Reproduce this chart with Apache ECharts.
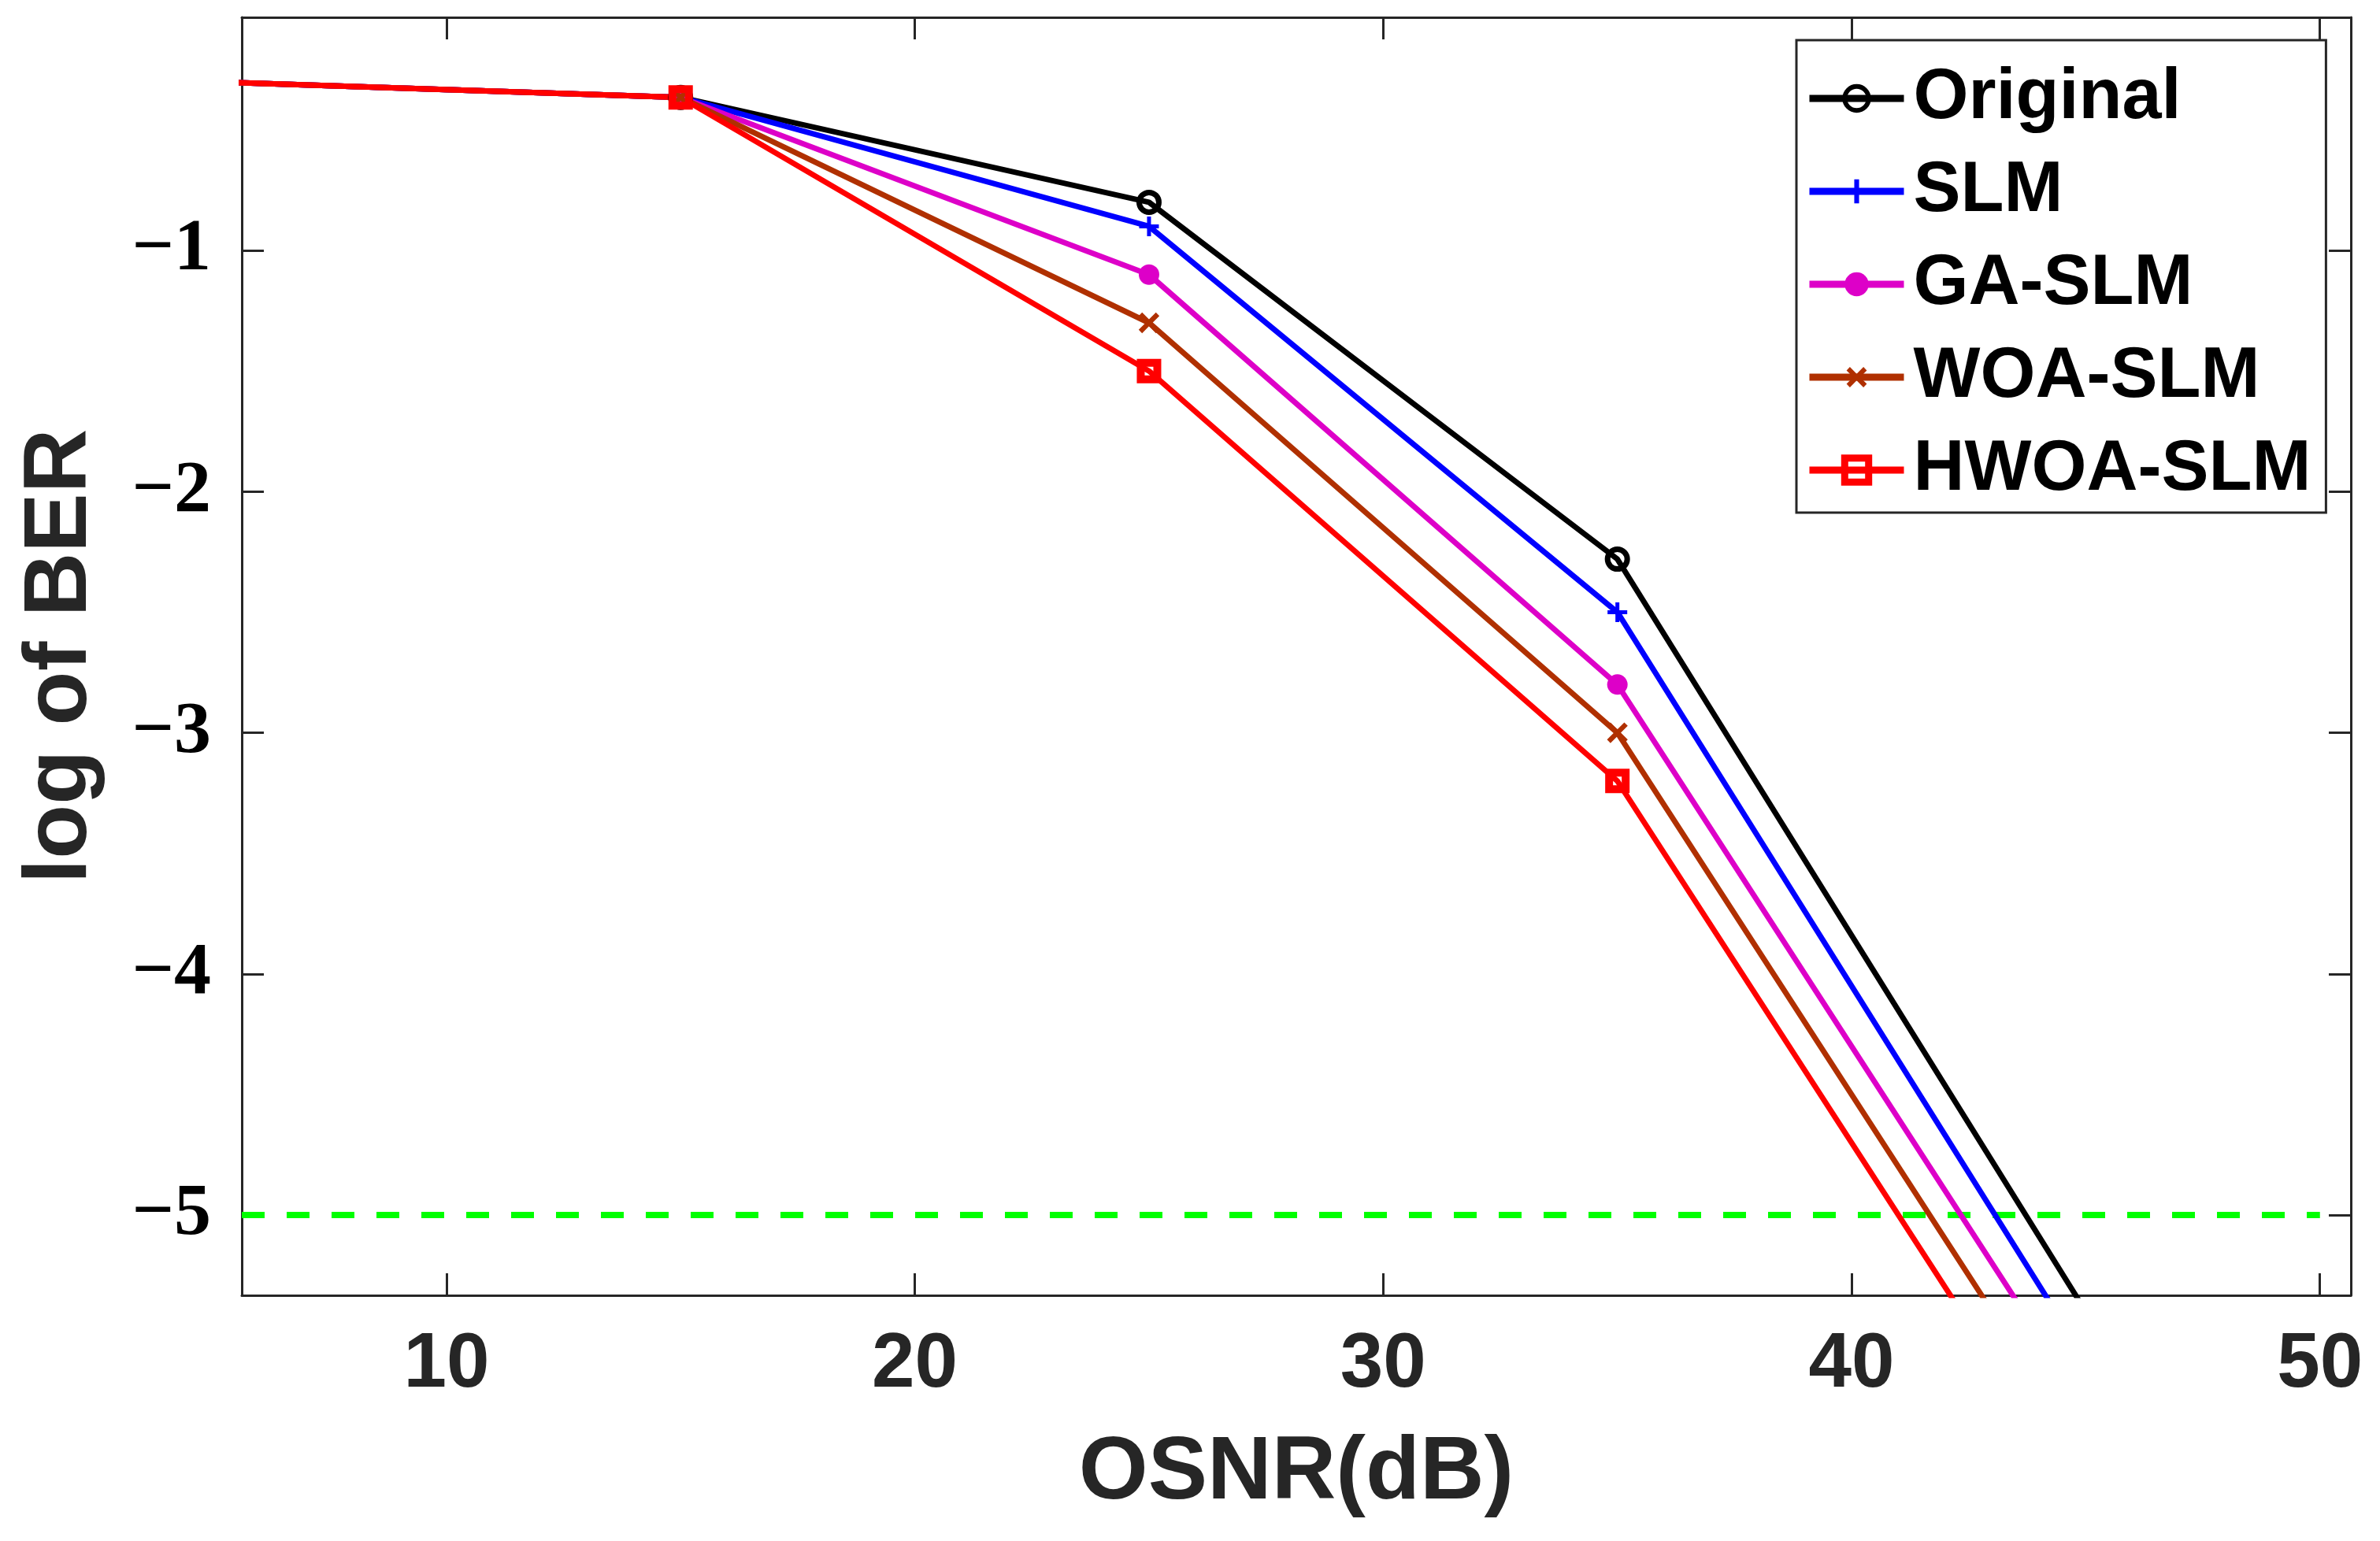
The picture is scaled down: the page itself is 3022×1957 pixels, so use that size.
<!DOCTYPE html>
<html><head><meta charset="utf-8">
<script src="https://cdn.jsdelivr.net/npm/echarts@6/dist/echarts.min.js"></script>
<style>html,body{margin:0;padding:0;background:#fff}#c{width:3022px;height:1957px}</style>
</head><body><div id="c"></div>
<script>
const osnr = [5, 15, 25, 35, 45];
const original = [-0.30, -0.365, -0.80, -2.28, -5.40];
const slm = [-0.30, -0.365, -0.90, -2.50, -5.60];
const gaSlm = [-0.30, -0.365, -1.10, -2.80, -5.80];
const woaSlm = [-0.30, -0.365, -1.30, -3.00, -6.00];
const hwoaSlm = [-0.30, -0.365, -1.50, -3.20, -6.20];
const thresholdX = [5.63, 50];
const thresholdY = [-5, -5];
const xTicks = [10, 20, 30, 40, 50];
const yTicks = [-1, -2, -3, -4, -5];
const xRange = [5.63, 50.66];
const yRange = [-5.333, -0.033];
const names = ['Original', 'SLM', 'GA-SLM', 'WOA-SLM', 'HWOA-SLM'];

const zip = (xs, ys) => xs.map((x, i) => [x, ys[i]]);
const axisCol = '#262626';
const plusPath = 'path://M4,0H6V4H10V6H6V10H4V6H0V4H4Z';
const LW = 7;

function lineSeries(name, ys, color, symbol, size, item, rotate) {
  return {
    name, type: 'line', data: zip(osnr, ys), clip: true,
    lineStyle: {color, width: LW}, symbol, symbolSize: size, symbolRotate: rotate || 0,
    itemStyle: Object.assign({color}, item || {}), z: 3
  };
}

const chart = echarts.init(document.getElementById('c'), null, {renderer: 'canvas'});
const axisLine = {show: true, onZero: false, lineStyle: {color: axisCol, width: 3}};
const legendItems = [
  {name: 'Original', itemStyle: {color: 'rgba(0,0,0,0)', borderColor: '#000000', borderWidth: 6}},
  {name: 'SLM', itemStyle: {color: '#0000ff', borderWidth: 0}},
  {name: 'GA-SLM', itemStyle: {color: '#dd00c8', borderWidth: 0}},
  {name: 'WOA-SLM', itemStyle: {color: '#b03000', borderWidth: 0}},
  {name: 'HWOA-SLM', itemStyle: {color: 'rgba(0,0,0,0)', borderColor: '#ff0000', borderWidth: 9}}
];
chart.setOption({
  animation: false,
  backgroundColor: '#fff',
  grid: {left: 307, right: 37, top: 22, bottom: 312, containLabel: false, outerBoundsMode: 'none'},
  legend: {
    orient: 'vertical', left: 2281, top: 51,
    itemWidth: 120, itemHeight: 38, itemGap: 28,
    padding: [29, 19, 9, 12],
    borderColor: axisCol, borderWidth: 3, backgroundColor: '#fff',
    lineStyle: {width: 9},
    textStyle: {fontFamily: 'Liberation Sans', fontWeight: 'bold', fontSize: 90, color: '#000', lineHeight: 90, padding: [0, 0, 0, 7]},
    data: legendItems
  },
  xAxis: [{
    type: 'value', min: xRange[0], max: xRange[1], position: 'bottom',
    axisLine, splitLine: {show: false},
    axisTick: {show: true, inside: true, length: 28, customValues: xTicks, lineStyle: {color: axisCol, width: 3}},
    axisLabel: {customValues: xTicks, fontFamily: 'Liberation Sans', fontWeight: 'bold', fontSize: 98, color: axisCol, margin: 40},
    name: 'OSNR(dB)', nameLocation: 'middle', nameGap: 170,
    nameTextStyle: {fontFamily: 'Liberation Sans', fontWeight: 'bold', fontSize: 113, color: axisCol}
  }, {
    type: 'value', min: xRange[0], max: xRange[1], position: 'top',
    axisLine, splitLine: {show: false},
    axisTick: {show: true, inside: true, length: 28, customValues: xTicks, lineStyle: {color: axisCol, width: 3}},
    axisLabel: {show: false}
  }],
  yAxis: [{
    type: 'value', min: yRange[0], max: yRange[1], position: 'left',
    axisLine, splitLine: {show: false},
    axisTick: {show: true, inside: true, length: 28, customValues: yTicks, lineStyle: {color: axisCol, width: 3}},
    axisLabel: {customValues: yTicks, fontFamily: 'Liberation Serif', fontWeight: 'bold', fontSize: 94, color: '#000', margin: 39,
      formatter: v => '\u2212' + Math.abs(v)},
    name: 'log of BER', nameLocation: 'middle', nameGap: 173, nameRotate: 90,
    nameTextStyle: {fontFamily: 'Liberation Sans', fontWeight: 'bold', fontSize: 113, color: axisCol}
  }, {
    type: 'value', min: yRange[0], max: yRange[1], position: 'right',
    axisLine, splitLine: {show: false},
    axisTick: {show: true, inside: true, length: 28, customValues: yTicks, lineStyle: {color: axisCol, width: 3}},
    axisLabel: {show: false}
  }],
  series: [
    {name: 'threshold', type: 'line', data: zip(thresholdX, thresholdY), symbol: 'none', clip: true,
     lineStyle: {color: '#00ff00', width: 8, type: [29, 28]}, z: 2},
    lineSeries('Original', original, '#000000', 'circle', 25, {color: 'rgba(0,0,0,0)', borderColor: '#000000', borderWidth: 7}),
    lineSeries('SLM', slm, '#0000ff', plusPath, 25),
    lineSeries('GA-SLM', gaSlm, '#dd00c8', 'circle', 26),
    lineSeries('WOA-SLM', woaSlm, '#b03000', plusPath, 31, null, 45),
    lineSeries('HWOA-SLM', hwoaSlm, '#ff0000', 'rect', 21, {color: 'rgba(0,0,0,0)', borderColor: '#ff0000', borderWidth: 10})
  ]
});
</script></body></html>
